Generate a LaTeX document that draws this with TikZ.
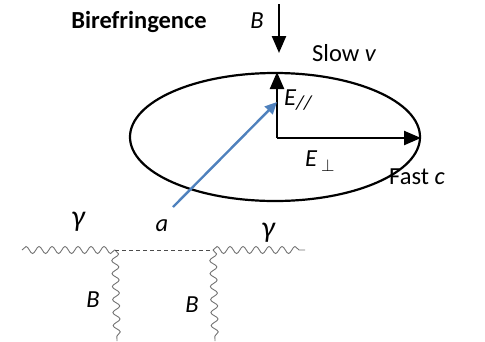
\documentclass[tikz,border=0pt]{standalone}
\usepackage{fontspec}
\setmainfont{Carlito}
\usetikzlibrary{arrows.meta,decorations.pathmorphing,shapes.geometric}
\definecolor{axblue}{HTML}{4F81BD}
\tikzset{
  lbl/.style={inner sep=0pt,font=\fontsize{24.5}{27}\selectfont},
  glbl/.style={inner sep=0pt,font=\fontsize{30}{32}\selectfont\itshape},
  vec/.style={line width=2.4pt,-{Triangle[length=17pt,width=14pt]}},
  wavy/.style={draw=black!55,line width=0.9pt,decorate,decoration={snake,segment length=13pt,amplitude=3.5pt}},
}
\begin{document}
\begin{tikzpicture}[x=1pt,y=-1pt]
\useasboundingbox (0,0) rectangle (485,341);
% ellipse
\node[draw,line width=2.2pt,ellipse,minimum width=290pt,minimum height=128pt,inner sep=0pt] (ell) at (275,137) {};
\coordinate (o) at (277,138);
\coordinate (top) at (277,72);
\coordinate (right) at (421,138);
\draw[vec] (o) -- (top);
\draw[vec] (o) -- (right);
% axion vector
\coordinate (as) at (173,207);
\coordinate (ae) at (277,102);
\draw[axblue,line width=2.4pt,-{Triangle[length=12pt,width=11pt]}] (as) -- (ae);
% B arrow
\coordinate (bs) at (279,4);
\coordinate (be) at (279,53);
\draw[vec] (bs) -- (be);
% labels
\node[lbl,font=\fontsize{24.5}{27}\selectfont\bfseries] (title) at (139,22) {Birefringence};
\node[lbl] (Bt) at (257,21) {\itshape B};
\node[lbl,anchor=west] (slow) at (312,53) {Slow \itshape v};
\node[lbl,anchor=west] (epar) at (284,100) {\itshape E\raisebox{-0.35ex}{\fontsize{20}{22}\selectfont//}};
\node[lbl,anchor=west] (eperp) at (305,161) {\itshape E\,\raisebox{-0.45ex}{\fontsize{16}{18}\selectfont$\perp$}};
\node[lbl,anchor=west] (fast) at (389,177) {Fast \itshape c};
\node[lbl] (a) at (162,226) {\itshape a};
\node[glbl] (g1) at (78,222) {γ};
\node[glbl] (g2) at (268,233) {γ};
\node[lbl] (B1) at (93,300) {\itshape B};
\node[lbl] (B2) at (192,305) {\itshape B};
% Feynman diagram
\coordinate (l0) at (22,250);
\coordinate (v1) at (115,250);
\coordinate (v2) at (213,250);
\coordinate (r0) at (305,250);
\coordinate (d1) at (117,341);
\coordinate (d2) at (215,341);
\draw[wavy] (l0) -- (v1);
\draw[wavy] (v2) -- (r0);
\draw[wavy] (v1) -- (d1);
\draw[wavy] (v2) -- (d2);
\draw[black!70,line width=1pt,dash pattern=on 4pt off 3pt] (v1) -- (v2);
\end{tikzpicture}
\end{document}
